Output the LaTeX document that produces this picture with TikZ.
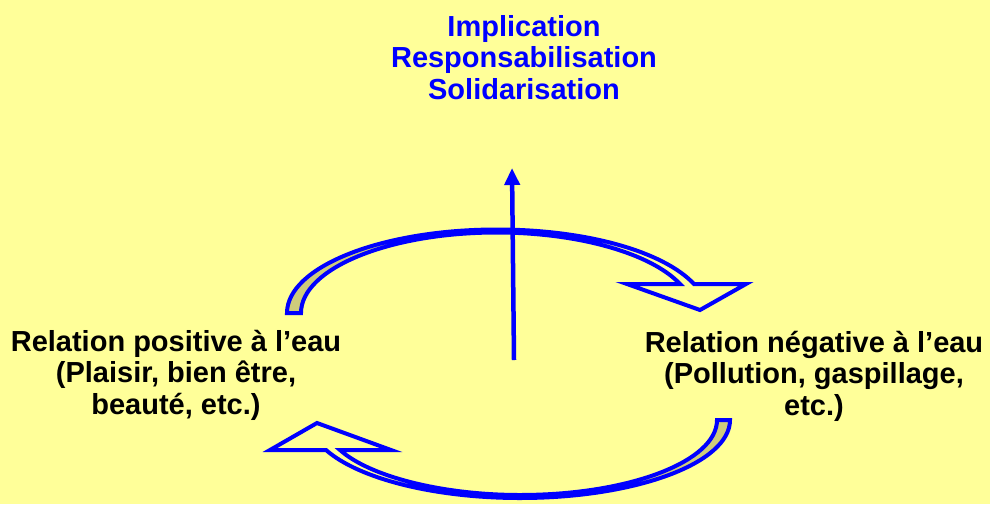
\documentclass[tikz,border=0pt]{standalone}
\usepackage{fontspec}
\setmainfont{Liberation Sans}
\usetikzlibrary{arrows.meta}
\definecolor{bgyellow}{RGB}{255,255,153}
\definecolor{ribbon}{RGB}{206,204,124}
\newcommand{\upperarc}{(287,313) .. controls (287,267) and (381,229.5) .. (497,229.5)
	.. controls (585,229.5) and (663,251) .. (694,284) -- (746,284) -- (700,310) -- (627,284) -- (680,284)
	.. controls (651,253) and (577,232.5) .. (497,232.5)
	.. controls (389,232.5) and (301,268.5) .. (301,313) -- cycle}
\newcommand{\lowerarc}{(730,420) .. controls (730,463) and (636,498) .. (520,498)
	.. controls (435.5,498) and (359,479) .. (326,450) -- (270,450) -- (317,423) -- (391,450) -- (340,450)
	.. controls (370,476.8) and (443,495) .. (520,495)
	.. controls (629,495) and (717,461.4) .. (717,420) -- cycle}

\begin{document}
\begin{tikzpicture}[x=1pt, y=-1pt,
	label text/.style={inner sep=0pt, align=center, anchor=north, font=\fontsize{29}{31.5}\selectfont\bfseries},
	block arrow/.style={draw=blue, line width=4pt, line join=miter}]
	\fill[bgyellow] (0,0) rectangle (990,504);
	\useasboundingbox (0,0) rectangle (990,504);

	\draw (524,15) node[label text, text=blue] (goal){Implication\\Responsabilisation\\Solidarisation}
	(176,330) node[label text] (pos){Relation positive à l’eau\\(Plaisir, bien être,\\beauté, etc.)}
	(814,331) node[label text] (neg){Relation négative à l’eau\\(Pollution, gaspillage,\\etc.)};

	\begin{scope}
		\clip (0,0) rectangle (497,504);
		\fill[ribbon] \upperarc;
	\end{scope}
	\draw[block arrow] \upperarc;

	\begin{scope}
		\clip (520,0) rectangle (990,504);
		\fill[ribbon] \lowerarc;
	\end{scope}
	\draw[block arrow] \lowerarc;

	\coordinate (stem) at (514,360);
	\coordinate (apex) at (512,168);
	\draw[blue, line width=4.5pt, -{Triangle[length=17pt,width=15pt]}] (stem) -- (apex);
\end{tikzpicture}
\end{document}
